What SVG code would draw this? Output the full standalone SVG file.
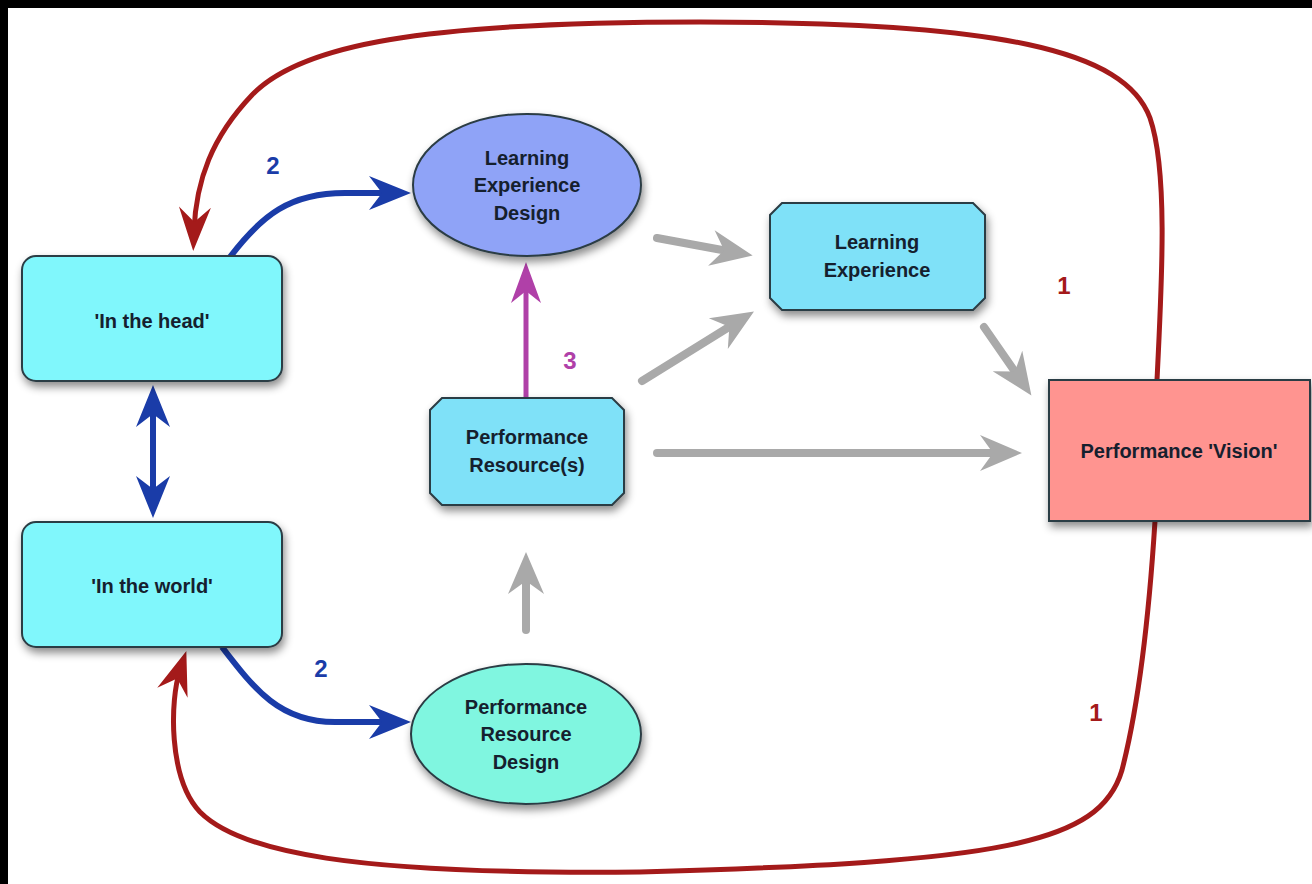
<svg xmlns="http://www.w3.org/2000/svg" width="1312" height="884" viewBox="0 0 1312 884">
<defs>
<style>
.lbl{font-family:"Liberation Sans",Arial,sans-serif;font-weight:bold;font-size:20px;fill:#15202e;text-anchor:middle}
.num{font-family:"Liberation Sans",Arial,sans-serif;font-weight:bold;font-size:24px;text-anchor:middle}
.node{stroke:#2c3c44;stroke-width:2;filter:url(#sh)}
.red{fill:none;stroke:#a41a1a;stroke-width:5}
.blue{fill:none;stroke:#1a3ca8;stroke-width:6}
.gray{fill:none;stroke:#a9a9a9;stroke-width:8;stroke-linecap:round}
.mag{fill:none;stroke:#b040a8;stroke-width:5}
</style>
<filter id="sh" x="-20%" y="-20%" width="140%" height="150%">
<feDropShadow dx="2" dy="5" stdDeviation="4" flood-color="#000" flood-opacity="0.45"/>
</filter>
<marker id="ag" markerUnits="userSpaceOnUse" markerWidth="50" markerHeight="46" viewBox="-26 -23 50 46" refX="0" refY="0" orient="auto"><path d="M20,0 L-22,-18 L-9,0 L-22,18 Z" fill="#a9a9a9"/></marker>
<marker id="ab" markerUnits="userSpaceOnUse" markerWidth="50" markerHeight="46" viewBox="-26 -23 50 46" refX="0" refY="0" orient="auto-start-reverse"><path d="M20,0 L-22,-17 L-9,0 L-22,17 Z" fill="#1a3ca8"/></marker>
<marker id="ar" markerUnits="userSpaceOnUse" markerWidth="50" markerHeight="46" viewBox="-26 -23 50 46" refX="0" refY="0" orient="auto"><path d="M20,0 L-24,-16 L-9,0 L-24,16 Z" fill="#a41a1a"/></marker>
<marker id="am" markerUnits="userSpaceOnUse" markerWidth="50" markerHeight="46" viewBox="-26 -23 50 46" refX="0" refY="0" orient="auto"><path d="M20,0 L-21,-15 L-9,0 L-21,15 Z" fill="#b040a8"/></marker>
</defs>
<rect x="0" y="0" width="1312" height="884" fill="#ffffff"/>
<rect x="0" y="0" width="1312" height="8" fill="#000"/>
<rect x="0" y="0" width="8" height="884" fill="#000"/>

<g id="connectors">
<path class="red" d="M1157,380 C1162,280 1168,170 1150,118 C1125,50 1000,22 700,22 C420,22 300,45 252,95 C212,137 196,180 194,231" marker-end="url(#ar)"/>
<path class="red" d="M1155,521 C1150,600 1140,700 1122,770 C1100,845 1000,862 640,872 C350,875 240,852 200,812 C168,778 170,700 180,670" marker-end="url(#ar)"/>
<path class="blue" d="M230,257 C262,215 290,193 345,193 L391,193" marker-end="url(#ab)"/>
<path class="blue" d="M222,647 C255,690 280,722 335,722 L391,722" marker-end="url(#ab)"/>
<path class="blue" d="M153,405 L153,498" marker-start="url(#ab)" marker-end="url(#ab)"/>
<path class="mag" d="M526,398 L526,282" marker-end="url(#am)"/>
<path class="gray" d="M657,238 L733,252" marker-end="url(#ag)"/>
<path class="gray" d="M642,381 L737,322" marker-end="url(#ag)"/>
<path class="gray" d="M657,453 L1002,453" marker-end="url(#ag)"/>
<path class="gray" d="M984,327 L1020,379" marker-end="url(#ag)"/>
<path class="gray" d="M526,630 L526,572" marker-end="url(#ag)"/>
<text class="num" x="273" y="174" fill="#1a3ca8">2</text>
<text class="num" x="321" y="677" fill="#1a3ca8">2</text>
<text class="num" x="570" y="369" fill="#b040a8" font-size="26">3</text>
<text class="num" x="1064" y="294" fill="#a41a1a">1</text>
<text class="num" x="1096" y="721" fill="#a41a1a">1</text>
</g>

<g id="in-the-head">
<rect class="node" x="22" y="256" width="260" height="125" rx="14" fill="#80f7fc"/>
<text class="lbl" x="152" y="328">'In the head'</text>
</g>
<g id="in-the-world">
<rect class="node" x="22" y="522" width="260" height="125" rx="14" fill="#80f7fc"/>
<text class="lbl" x="152" y="593">'In the world'</text>
</g>
<g id="learning-experience-design">
<ellipse class="node" cx="527" cy="185" rx="114" ry="71" fill="#8fa3f7"/>
<text class="lbl" x="527" y="165">Learning</text>
<text class="lbl" x="527" y="192">Experience</text>
<text class="lbl" x="527" y="220">Design</text>
</g>
<g id="performance-resources">
<path class="node" d="M442,398 L612,398 L624,410 L624,493 L612,505 L442,505 L430,493 L430,410 Z" fill="#7fe1f8"/>
<text class="lbl" x="527" y="444">Performance</text>
<text class="lbl" x="527" y="472">Resource(s)</text>
</g>
<g id="performance-resource-design">
<ellipse class="node" cx="526" cy="734" rx="115" ry="70" fill="#80f6e0"/>
<text class="lbl" x="526" y="714">Performance</text>
<text class="lbl" x="526" y="741">Resource</text>
<text class="lbl" x="526" y="769">Design</text>
</g>
<g id="learning-experience">
<path class="node" d="M782,203 L973,203 L985,215 L985,298 L973,310 L782,310 L770,298 L770,215 Z" fill="#7fe1f8"/>
<text class="lbl" x="877" y="249">Learning</text>
<text class="lbl" x="877" y="277">Experience</text>
</g>
<g id="performance-vision">
<rect class="node" x="1049" y="380" width="261" height="141" fill="#ff9490"/>
<text class="lbl" x="1179" y="458">Performance 'Vision'</text>
</g>
</svg>
